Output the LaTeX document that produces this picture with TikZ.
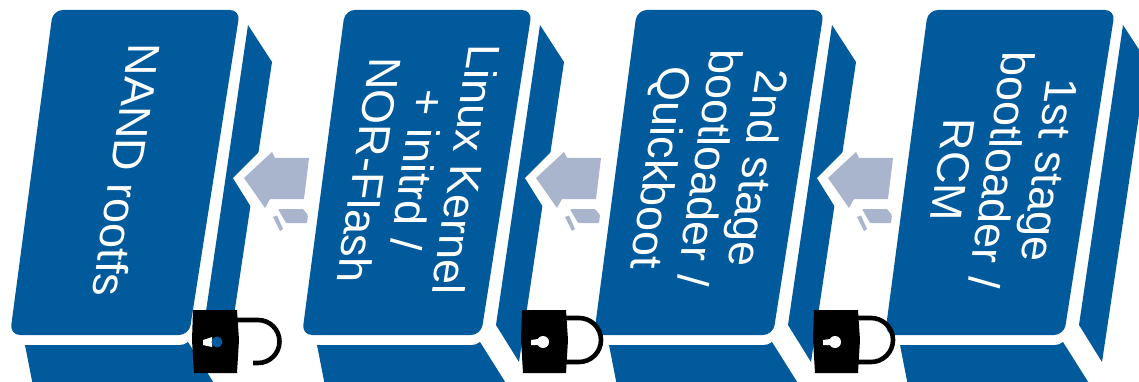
\documentclass[tikz,border=0pt]{standalone}
\usepackage{fontspec}
\setmainfont{Liberation Sans}
\definecolor{boxblue}{HTML}{005A9C}
\definecolor{arrowgrey}{HTML}{A9B4CD}
\tikzset{
  bluefill/.style={fill=boxblue,draw=none},
  greyfill/.style={fill=arrowgrey,draw=none},
  lbl/.style={transform shape,text=white,inner sep=0pt,align=center,font=\fontsize{45}{48.5}\selectfont},
  slanted/.style={cm={-0.15,-1,1,0,(0,0)}},
  shackle/.style={draw=black,line width=4.6pt,fill=none}
}
% one block: front face, side panel and bottom panel
\newcommand{\blockshape}[1]{%
  \begin{scope}[xshift=#1pt]
    \fill[bluefill,rounded corners=10pt] (53,10) -- (240,10) -- (189,335) -- (10,335) -- cycle;
    \fill[bluefill] (248,25) -- (272,62) -- (227,362) -- (204,325) -- cycle;
    \fill[bluefill] (25,345) -- (180,345) to[out=0,in=215] (188,342) -- (222,396) -- (35,396) -- cycle;
  \end{scope}}
% arrow with its white chevron
\newcommand{\arrowshape}[1]{%
  \begin{scope}[xshift=#1pt]
    \fill[white] (233,178) -- (262,149) -- (300,149) -- (300,215) -- (253,210) -- cycle;
    \fill[greyfill] (244,178) -- (272,152) -- (275,158) -- (309,158) -- (304,199) -- (270,199) -- (265,208) -- cycle;
    \fill[greyfill,rounded corners=1pt] (278,209) -- (303,209) -- (308,215) -- (307,223) -- (286,223) -- cycle;
    \fill[greyfill] (273,217) -- (277,215.5) -- (283,229) -- (280,231) -- cycle;
  \end{scope}}
% padlock body
\newcommand{\lockbody}[1]{%
  \fill[black] (#1,310) -- (#1+44,310) -- (#1+46,340) -- (#1+44,373) -- (#1+1,373) -- (#1-1,340) -- cycle;}
\begin{document}
\begin{tikzpicture}[x=1pt,y=-1pt]
\useasboundingbox (0,0) rectangle (1139,382);
\fill[white] (0,0) rectangle (1139,382);
\clip (0,0) rectangle (1139,382);
\blockshape{0}
\blockshape{292}
\blockshape{584}
\blockshape{875}
\arrowshape{0}
\arrowshape{292}
\arrowshape{584}
% labels
\begin{scope}[shift={(127,170)},slanted]
  \node[lbl] (rootfs) at (0,0) {NAND rootfs};
\end{scope}
\begin{scope}[shift={(418,170)},slanted]
  \node[lbl] (kernel) at (0,0) {Linux Kernel\\+ initrd /\\NOR-Flash};
\end{scope}
\begin{scope}[shift={(706,168)},slanted]
  \node[lbl] (second) at (0,0) {2nd stage\\bootloader /\\Quickboot};
\end{scope}
\begin{scope}[shift={(1001,170)},slanted]
  \node[lbl] (first) at (0,0) {1st stage\\bootloader /\\RCM};
\end{scope}
% open lock
\draw[shackle] (236,320) -- (258,320) arc[start angle=-90,end angle=90,radius=21.5] -- (253,363);
\lockbody{193}
\fill[white] (203,340) -- (212,337) -- (212,347) -- (203,345) -- cycle;
\fill[boxblue] (217,342) circle[radius=5.5];
% closed locks
\draw[shackle] (564,318) -- (579,318) arc[start angle=-90,end angle=90,radius=22] -- (564,362);
\lockbody{522}
\fill[white] (531,340) -- (538,339) -- (538,345) -- (531,345) -- cycle;
\fill[white] (543,342) circle[radius=6];
\draw[shackle] (856,318) -- (871,318) arc[start angle=-90,end angle=90,radius=22] -- (856,362);
\lockbody{814}
\fill[white] (823,340) -- (830,339) -- (830,345) -- (823,345) -- cycle;
\fill[white] (835,342) circle[radius=6];
\end{tikzpicture}
\end{document}
